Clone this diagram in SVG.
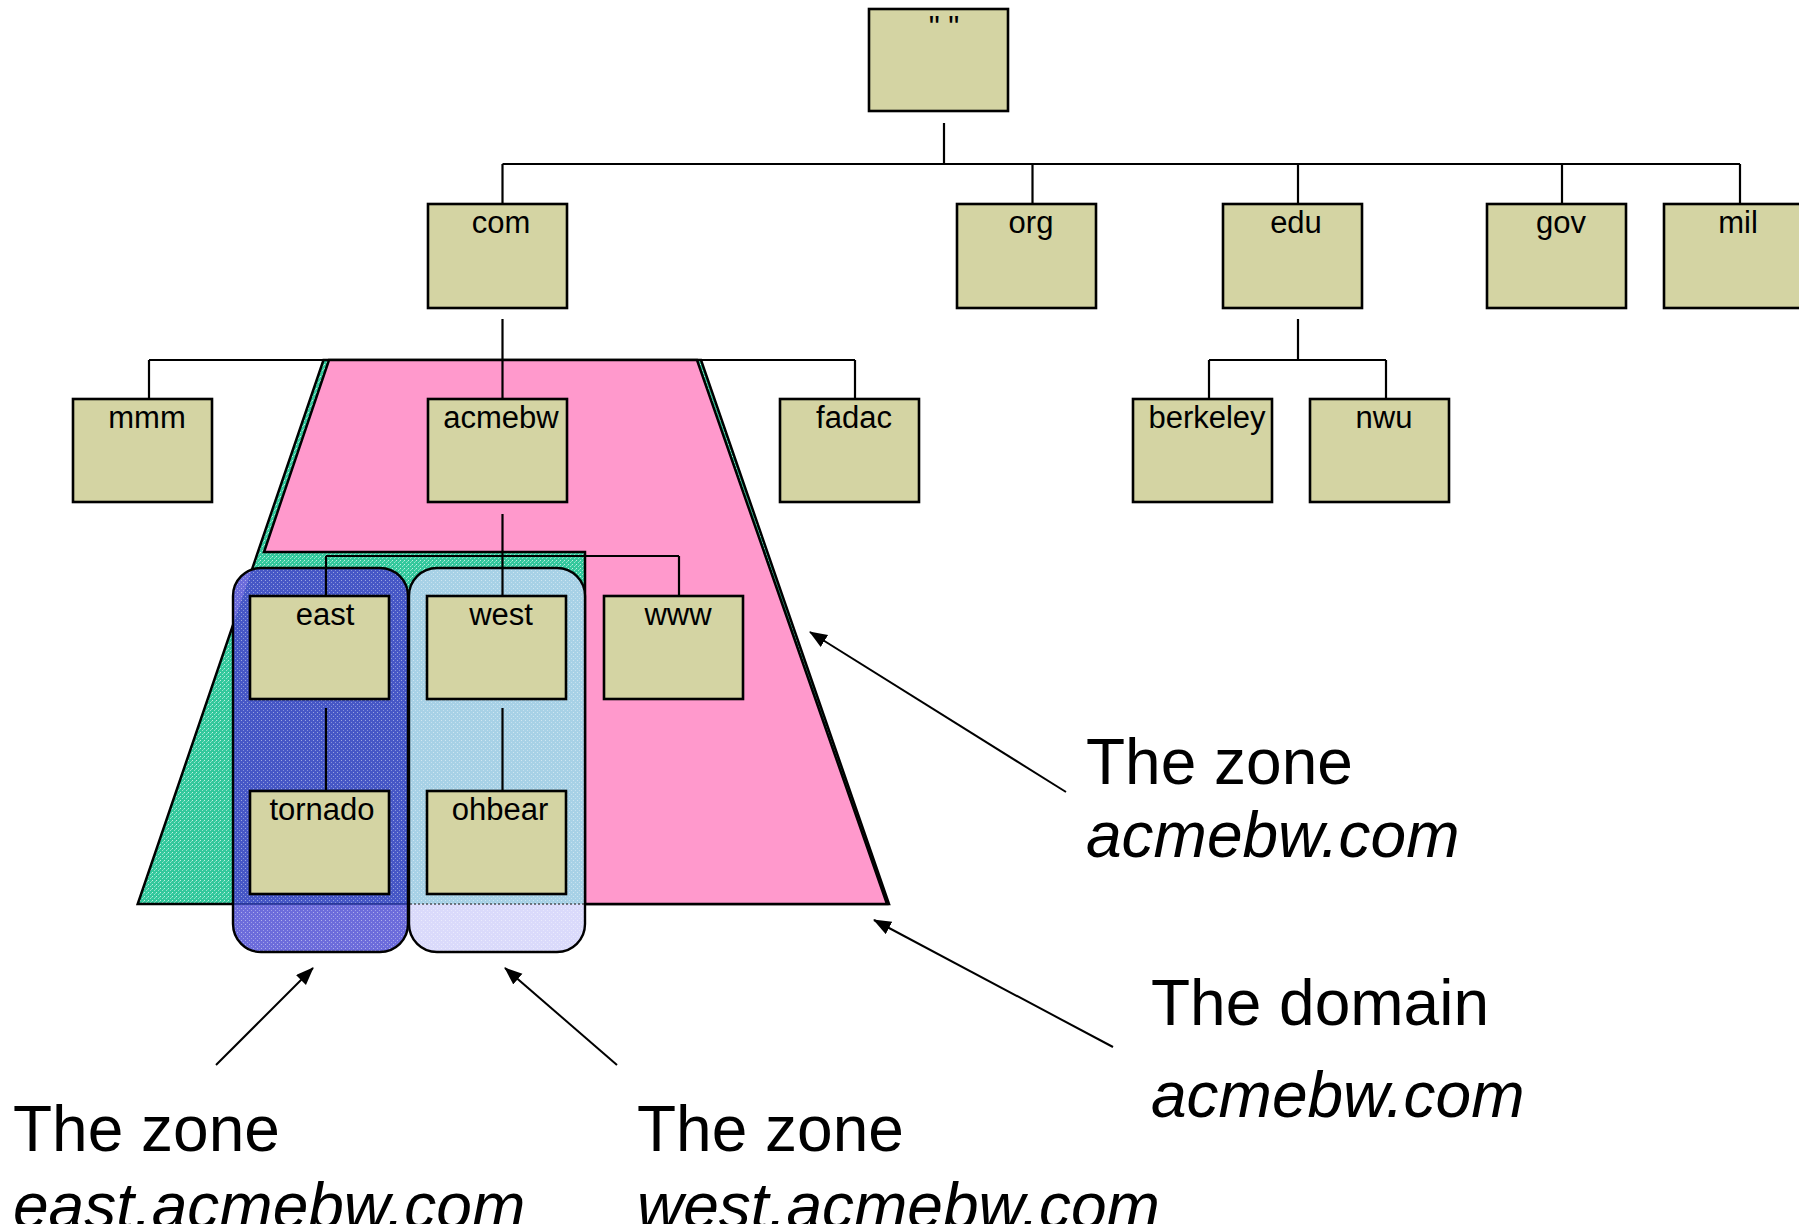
<svg xmlns="http://www.w3.org/2000/svg" width="1799" height="1224" viewBox="0 0 1799 1224">
  <style>
    .box { fill: #D4D4A3; stroke: #000; stroke-width: 2.6; }
    .lbl { font-family: "Liberation Sans", Arial, sans-serif; font-size: 31px; fill: #000; text-anchor: middle; }
    .big { font-family: "Liberation Sans", Arial, sans-serif; font-size: 64px; fill: #000; }
    .it { font-style: italic; }
    .wire { fill: none; stroke: #000; stroke-width: 2.2; }
    .edge { stroke: #000; stroke-width: 2.5; stroke-linejoin: miter; }
    .ptr { fill: none; stroke: #000; stroke-width: 2; marker-end: url(#head); }
  </style>
  <defs>
    <marker id="head" markerUnits="userSpaceOnUse" markerWidth="20" markerHeight="16" refX="17" refY="7" orient="auto">
      <path d="M0,0 L18,7 L0,14 Z" fill="#000"/>
    </marker>
    <!-- speckled fills -->
    <pattern id="greenTex" width="4" height="4" patternUnits="userSpaceOnUse">
      <rect width="4" height="4" fill="#33C89C"/>
      <rect x="0" y="0" width="1" height="1" fill="#fff" opacity="0.7"/>
      <rect x="2" y="2" width="1" height="1" fill="#fff" opacity="0.5"/>
      <rect x="3" y="1" width="1" height="1" fill="#9ff0d8" opacity="0.6"/>
    </pattern>
    <pattern id="speck" width="4" height="4" patternUnits="userSpaceOnUse">
      <rect x="1" y="0" width="1" height="1" fill="#fff" opacity="0.45"/>
      <rect x="3" y="2" width="1" height="1" fill="#fff" opacity="0.35"/>
    </pattern>
    <clipPath id="inGreen">
      <polygon points="323.5,360 701,360 889,904 137.7,904"/>
    </clipPath>
  </defs>

  <!-- zone / domain shapes -->
  <g id="domain-acmebw">
    <polygon class="edge" points="323.5,360 701,360 889,904 137.7,904" fill="url(#greenTex)"/>
  </g>
  <g id="zone-acmebw">
    <polygon class="edge" points="329,360 697,360 887,904 585,904 585,552 264,552" fill="#FF99CC"/>
  </g>
  <g id="zone-east">
    <rect x="233" y="568" width="175" height="384" rx="28" fill="#6C6CDB"/>
    <rect x="233" y="568" width="175" height="384" rx="28" fill="#4657C6" clip-path="url(#inGreen)"/>
    <rect x="233" y="568" width="175" height="384" rx="28" fill="url(#speck)"/>
    <line x1="234" y1="904" x2="407" y2="904" stroke="#1a2a8a" stroke-width="2" opacity="0.7"/>
    <rect x="233" y="568" width="175" height="384" rx="28" fill="none" stroke="#000" stroke-width="2.4"/>
  </g>
  <g id="zone-west">
    <rect x="409" y="568" width="176" height="384" rx="28" fill="#DADAFB"/>
    <rect x="409" y="568" width="176" height="384" rx="28" fill="#A7D1E6" clip-path="url(#inGreen)"/>
    <rect x="409" y="568" width="176" height="384" rx="28" fill="url(#speck)"/>
    <line x1="410" y1="904" x2="584" y2="904" stroke="#333" stroke-width="1.5" stroke-dasharray="2 2" opacity="0.8"/>
    <rect x="409" y="568" width="176" height="384" rx="28" fill="none" stroke="#000" stroke-width="2.4"/>
  </g>

  <!-- tree connectors -->
  <g id="connectors" class="wire">
    <path d="M944,123 V164 M502.5,164 H1740 M502.5,164 V204 M1032.5,164 V204 M1298,164 V204 M1562,164 V204 M1740,164 V204"/>
    <path d="M502.5,319 V360 M149,360 H855 M149,360 V399 M502.5,360 V399 M855,360 V399"/>
    <path d="M1298,319 V360 M1209,360 H1386 M1209,360 V399 M1386,360 V399"/>
    <path d="M502.5,514 V556 M326,556 H679 M326,556 V596 M502.5,556 V596 M679,556 V596"/>
    <path d="M326,708 V791 M502.5,708 V791"/>
  </g>

  <!-- nodes -->
  <g id="node-root"><rect class="box" x="869" y="9" width="139" height="102"/><text class="lbl" x="944" y="38">" "</text></g>
  <g id="node-com"><rect class="box" x="428" y="204" width="139" height="104"/><text class="lbl" x="501" y="233">com</text></g>
  <g id="node-org"><rect class="box" x="957" y="204" width="139" height="104"/><text class="lbl" x="1031" y="233">org</text></g>
  <g id="node-edu"><rect class="box" x="1223" y="204" width="139" height="104"/><text class="lbl" x="1296" y="233">edu</text></g>
  <g id="node-gov"><rect class="box" x="1487" y="204" width="139" height="104"/><text class="lbl" x="1561" y="233">gov</text></g>
  <g id="node-mil"><rect class="box" x="1664" y="204" width="150" height="104"/><text class="lbl" x="1738" y="233">mil</text></g>
  <g id="node-mmm"><rect class="box" x="73" y="399" width="139" height="103"/><text class="lbl" x="147" y="428">mmm</text></g>
  <g id="node-acmebw"><rect class="box" x="428" y="399" width="139" height="103"/><text class="lbl" x="501" y="428">acmebw</text></g>
  <g id="node-fadac"><rect class="box" x="780" y="399" width="139" height="103"/><text class="lbl" x="854" y="428">fadac</text></g>
  <g id="node-berkeley"><rect class="box" x="1133" y="399" width="139" height="103"/><text class="lbl" x="1207" y="428">berkeley</text></g>
  <g id="node-nwu"><rect class="box" x="1310" y="399" width="139" height="103"/><text class="lbl" x="1384" y="428">nwu</text></g>
  <g id="node-east"><rect class="box" x="250" y="596" width="139" height="103"/><text class="lbl" x="325" y="625">east</text></g>
  <g id="node-west"><rect class="box" x="427" y="596" width="139" height="103"/><text class="lbl" x="501" y="625">west</text></g>
  <g id="node-www"><rect class="box" x="604" y="596" width="139" height="103"/><text class="lbl" x="678" y="625">www</text></g>
  <g id="node-tornado"><rect class="box" x="250" y="791" width="139" height="103"/><text class="lbl" x="322" y="820">tornado</text></g>
  <g id="node-ohbear"><rect class="box" x="427" y="791" width="139" height="103"/><text class="lbl" x="500" y="820">ohbear</text></g>

  <!-- callout arrows -->
  <g id="callouts">
    <line class="ptr" x1="1066" y1="792" x2="810" y2="632"/>
    <line class="ptr" x1="1113" y1="1047" x2="874" y2="920"/>
    <line class="ptr" x1="216" y1="1065" x2="313" y2="968"/>
    <line class="ptr" x1="617" y1="1065" x2="505" y2="968"/>
  </g>

  <!-- callout texts -->
  <g id="label-zone-acmebw"><text class="big" x="1086" y="784">The zone</text><text class="big it" x="1086" y="857">acmebw.com</text></g>
  <g id="label-domain-acmebw"><text class="big" x="1151" y="1025">The domain</text><text class="big it" x="1151" y="1117">acmebw.com</text></g>
  <g id="label-zone-east"><text class="big" x="13" y="1151">The zone</text><text class="big it" x="13" y="1228">east.acmebw.com</text></g>
  <g id="label-zone-west"><text class="big" x="637" y="1151">The zone</text><text class="big it" x="637" y="1228">west.acmebw.com</text></g>
</svg>
